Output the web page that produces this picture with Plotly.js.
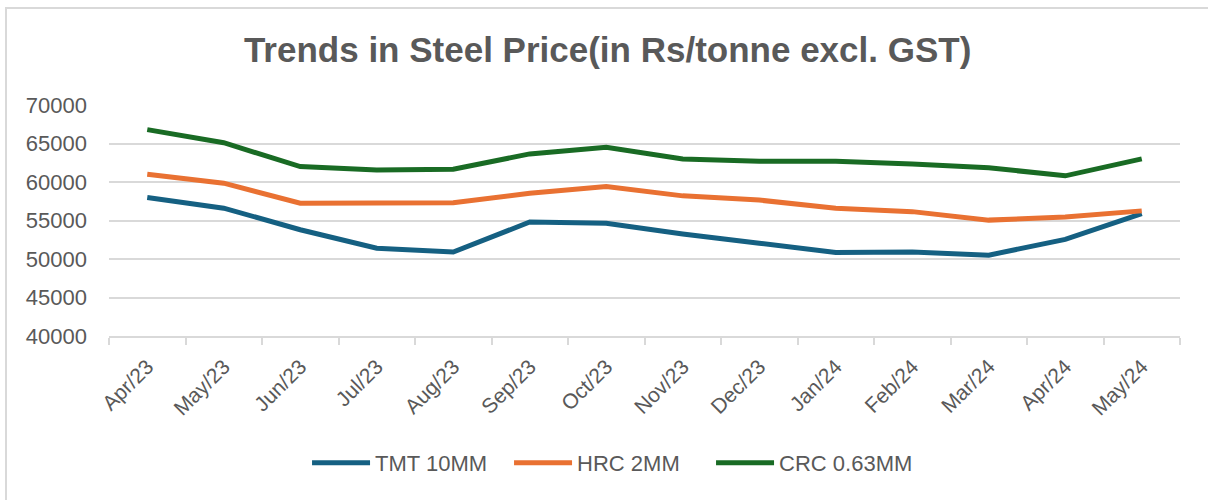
<!DOCTYPE html>
<html>
<head>
<meta charset="utf-8">
<script src="https://cdn.plot.ly/plotly-3.0.1.min.js"></script>
<style>
  html, body { margin: 0; padding: 0; background: #fff; }
  #wrap { position: relative; width: 1208px; height: 500px; }
  #chart { width: 1208px; height: 500px; }
  #frame { position: absolute; left: 5px; top: 7px; width: 1300px; height: 600px;
           border-left: 2px solid #d9d9d9; border-top: 2px solid #d9d9d9; pointer-events: none; }
</style>
</head>
<body>
<div id="wrap">
  <div id="chart"></div>
  <div id="frame"></div>
</div>
<script>
const months = ["Apr/23","May/23","Jun/23","Jul/23","Aug/23","Sep/23","Oct/23","Nov/23","Dec/23","Jan/24","Feb/24","Mar/24","Apr/24","May/24"];
const tmt10mm = [58000, 56600, 53800, 51400, 50900, 54800, 54650, 53250, 52050, 50850, 50900, 50500, 52550, 55900];
const hrc2mm  = [61000, 59850, 57250, 57200, 57300, 58550, 59400, 58200, 57650, 56600, 56150, 55050, 55450, 56250];
const crc063mm = [66800, 65100, 62000, 61550, 61650, 63650, 64500, 63000, 62700, 62700, 62350, 61850, 60800, 63000];
const seriesNames = ["TMT 10MM", "HRC 2MM", "CRC 0.63MM"];
const colors = ["#156082", "#E97132", "#196B24"];

const textColor = "#595959";
const fontFam = "Liberation Sans, Arial, sans-serif";

const traces = [tmt10mm, hrc2mm, crc063mm].map((vals, i) => ({
  x: months,
  y: vals,
  type: "scatter",
  mode: "lines",
  name: seriesNames[i],
  line: { color: colors[i], width: 5, shape: "linear" },
  hoverinfo: "x+y+name"
}));

const layout = {
  width: 1208,
  height: 500,
  margin: { l: 109, r: 28, t: 105, b: 164 },
  paper_bgcolor: "#ffffff",
  plot_bgcolor: "#ffffff",
  title: {
    text: "<b>Trends in Steel Price(in Rs/tonne excl. GST)</b>",
    font: { family: fontFam, size: 35, color: textColor },
    x: 0.503, xanchor: "center",
    y: 0.9, yref: "container", yanchor: "middle"
  },
  xaxis: {
    type: "category",
    tickangle: -45,
    tickson: "boundaries",
    ticks: "outside",
    ticklen: 7,
    tickcolor: "#d9d9d9",
    tickwidth: 2,
    showline: true,
    linecolor: "#d9d9d9",
    linewidth: 2,
    showgrid: false,
    ticklabelstandoff: 8,
    tickfont: { family: fontFam, size: 21, color: textColor },
    range: [-0.5, 13.5],
    fixedrange: true
  },
  yaxis: {
    range: [40000, 70000],
    dtick: 5000,
    tick0: 40000,
    showgrid: true,
    gridcolor: "#d9d9d9",
    gridwidth: 2,
    zeroline: false,
    showline: false,
    ticks: "",
    ticklabelstandoff: 21,
    tickformat: "d",
    tickfont: { family: fontFam, size: 22, color: textColor },
    fixedrange: true
  },
  showlegend: true,
  legend: {
    orientation: "h",
    xref: "container",
    yref: "container",
    x: 0.505,
    xanchor: "center",
    y: 0.074,
    yanchor: "middle",
    font: { family: fontFam, size: 22, color: textColor },
    itemwidth: 58,
    entrywidth: 129,
    bgcolor: "rgba(0,0,0,0)"
  }
};

Plotly.newPlot("chart", traces, layout, { displayModeBar: false, staticPlot: true });
</script>
</body>
</html>
